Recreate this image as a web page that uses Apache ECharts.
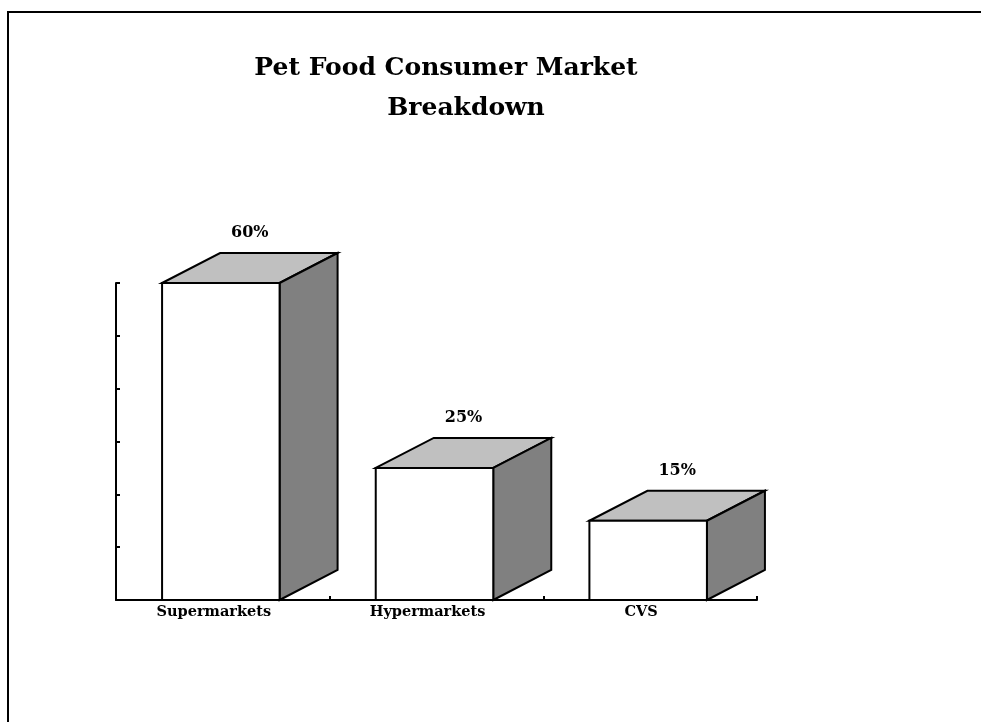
<!DOCTYPE html>
<html>
<head>
<meta charset="utf-8">
<script src="https://cdn.jsdelivr.net/npm/echarts@6/dist/echarts.min.js"></script>
<style>
html,body{margin:0;padding:0;background:#fff;}
#chart{width:981px;height:722px;}
</style>
</head>
<body>
<div id="chart"></div>
<script>
const titleLines = ['Pet Food Consumer Market', 'Breakdown'];
const categories = ['Supermarkets', 'Hypermarkets', 'CVS'];
const shares = [60, 25, 15];
const yTicks = [0, 10, 20, 30, 40, 50, 60];

const DX = 58, DY = 30;
const chart = echarts.init(document.getElementById('chart'));
chart.setOption({
  backgroundColor: '#fff',
  animation: false,
  title: [
    {text: titleLines[0], left: 441, top: 51, textAlign: 'center',
     textStyle: {fontFamily: 'DejaVu Serif', fontSize: 25, fontWeight: 'bold', color: '#000'}},
    {text: titleLines[1], left: 461, top: 91, textAlign: 'center',
     textStyle: {fontFamily: 'DejaVu Serif', fontSize: 25, fontWeight: 'bold', color: '#000'}}
  ],
  graphic: [{
    type: 'polyline', silent: true,
    shape: {points: [[8, 800], [8, 12], [1000, 12]]},
    style: {stroke: '#000', lineWidth: 2, fill: null}
  }],
  grid: {left: 116, right: 224, top: 283, bottom: 122},
  xAxis: {
    type: 'category', data: categories, boundaryGap: true,
    axisLine: {lineStyle: {color: '#000', width: 2}},
    axisTick: {show: true, inside: true, length: 4, interval: 0, lineStyle: {color: '#000', width: 2}},
    axisLabel: {margin: 5, color: '#000', fontFamily: 'DejaVu Serif', fontWeight: 'bold', fontSize: 14.5,
                interval: 0, padding: [0, 18, 0, 0]}
  },
  yAxis: {
    type: 'value', min: yTicks[0], max: yTicks[yTicks.length - 1], interval: yTicks[1] - yTicks[0],
    axisLine: {show: true, lineStyle: {color: '#000', width: 2}},
    axisTick: {show: true, inside: true, length: 4, lineStyle: {color: '#000', width: 2}},
    axisLabel: {show: false},
    splitLine: {show: false}
  },
  series: [{
    type: 'custom',
    data: shares.map((v, i) => [i, v]),
    renderItem: function (params, api) {
      const base = api.coord([api.value(0), 0]);
      const topPt = api.coord([api.value(0), api.value(1)]);
      const w = api.size([1, 0])[0] * 0.55;
      const cx = base[0] - 2;
      const l = cx - w / 2, r = cx + w / 2, b = base[1], t = topPt[1];
      const st = {stroke: '#000', lineWidth: 2, lineJoin: 'miter'};
      return {
        type: 'group',
        children: [
          {type: 'polygon', shape: {points: [[l, t], [l + DX, t - DY], [r + DX, t - DY], [r, t]]},
           style: Object.assign({fill: '#c0c0c0'}, st)},
          {type: 'polygon', shape: {points: [[r, t], [r + DX, t - DY], [r + DX, b - DY], [r, b]]},
           style: Object.assign({fill: '#808080'}, st)},
          {type: 'rect', shape: {x: l, y: t, width: w, height: b - t},
           style: Object.assign({fill: '#fff'}, st)},
          {type: 'text', x: cx + DX / 2, y: t - DY - 12,
           style: {text: api.value(1) + '%', textAlign: 'center', textVerticalAlign: 'bottom',
                   font: 'bold 16px "DejaVu Serif"', fill: '#000'}}
        ]
      };
    }
  }]
});
</script>
</body>
</html>
